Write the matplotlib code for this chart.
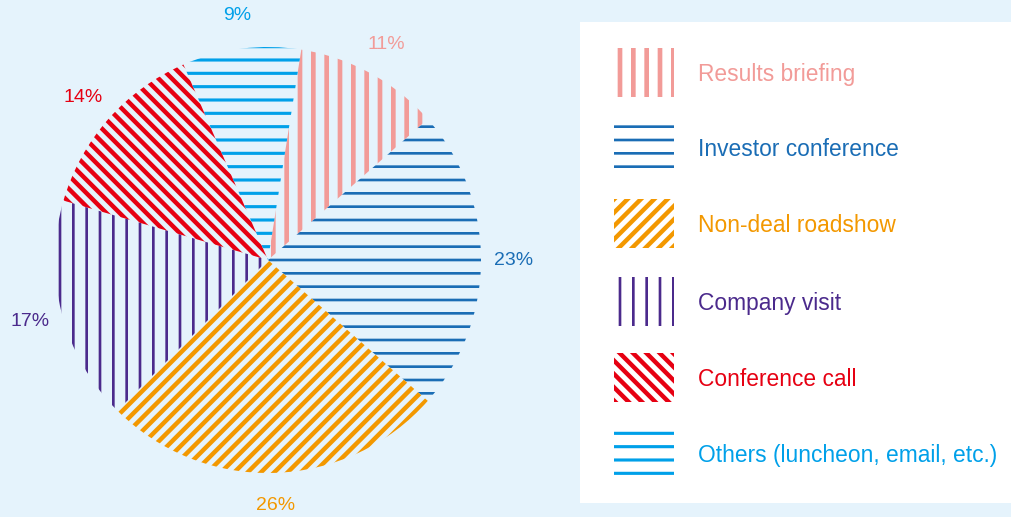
import matplotlib
matplotlib.use('Agg')
import matplotlib.pyplot as plt
import matplotlib.patches as mpatches

# data
categories = ['Results briefing', 'Investor conference', 'Non-deal roadshow',
              'Company visit', 'Conference call', 'Others (luncheon, email, etc.)']
shares = [11, 23, 26, 17, 14, 9]

# styles
colors = ['#f29b98', '#1a6db5', '#f39800', '#4b2a8c', '#e60012', '#00a0e9']
hatches = ['|', '-', '//', '|', '\\\\', '-']
hatch_widths = [4.2, 2.4, 4.0, 2.4, 4.0, 2.8]
bg = '#e5f3fc'

plt.rcParams['font.family'] = ['Liberation Sans', 'DejaVu Sans']

W, H, DPI = 1011, 517, 80
fig = plt.figure(figsize=(W / DPI, H / DPI), dpi=DPI, facecolor=bg)
ax = fig.add_axes([0, 0, 1, 1])
ax.set_facecolor(bg)


def set_hatch_lw(patch, lw):
    if hasattr(patch, 'set_hatch_linewidth'):
        patch.set_hatch_linewidth(lw)
    else:
        draw = patch.draw

        def wrapped(renderer, draw=draw, lw=lw):
            with plt.rc_context({'hatch.linewidth': lw}):
                draw(renderer)
        patch.draw = wrapped


# pie (pixel coords, y up)
wedges, texts, autotexts = ax.pie(
    shares, startangle=81, counterclock=False,
    radius=213, center=(268, H - 260),
    autopct=lambda p: f'{p:.0f}%', pctdistance=246 / 213,
    wedgeprops=dict(facecolor='none', linewidth=0),
    textprops=dict(fontsize=17.5))

for w, c, h, lw, t in zip(wedges, colors, hatches, hatch_widths, autotexts):
    w.set_edgecolor(c)
    w.set_hatch(h)
    set_hatch_lw(w, lw)
    t.set_color(c)

# legend box
ax.add_patch(mpatches.Rectangle((580, H - 503), W - 580, 481,
                                facecolor='white', linewidth=0, zorder=0.5))

row_y = [72, 147, 223, 301, 377, 453]
for name, c, h, lw, y in zip(categories, colors, hatches, hatch_widths, row_y):
    r = mpatches.Rectangle((614, H - y - 24.5), 60, 49, facecolor='none',
                           edgecolor=c, linewidth=0, hatch=h, zorder=1)
    set_hatch_lw(r, lw)
    ax.add_patch(r)
    ax.text(698, H - y, name, color=c, fontsize=20.5, va='center_baseline', ha='left')

ax.set_xlim(0, W)
ax.set_ylim(0, H)
ax.set_aspect('auto')
ax.axis('off')

fig.savefig('out.png', dpi=DPI, facecolor=bg)
